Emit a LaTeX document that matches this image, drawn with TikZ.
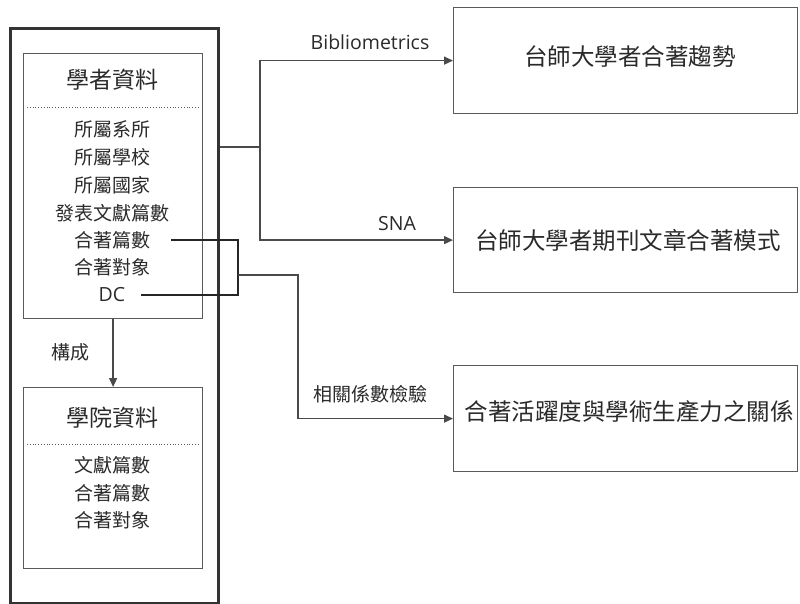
\documentclass[tikz,border=0pt]{standalone}
\usepackage{fontspec}
\setmainfont{Noto Sans CJK TC}
\newfontfamily\latin{Open Sans}
\usetikzlibrary{arrows.meta}
\definecolor{txtC}{HTML}{2A2A2A}
\definecolor{lineC}{HTML}{4A4A4A}
\definecolor{boxC}{HTML}{5A5A5A}
\begin{document}
\begin{tikzpicture}[x=1pt,y=-1pt,line join=miter,
  conn/.style={draw=lineC,line width=1.4pt},
  brk/.style={draw=black!85,line width=1.4pt},
  arr/.style={conn,-{Triangle[length=9pt,width=8pt]}},
  box/.style={draw=boxC,line width=1.2pt,anchor=north west,inner sep=0pt},
  ttl/.style={text=txtC,font=\fontsize{23}{26}\selectfont,inner sep=0pt},
  item/.style={text=txtC,font=\fontsize{19}{22}\selectfont,inner sep=0pt},
  big/.style={text=txtC,font=\fontsize{23.5}{26}\selectfont,inner sep=0pt},
  lab/.style={text=txtC,font=\fontsize{19}{22}\selectfont,inner sep=0pt},
  lat/.style={text=txtC,font=\latin\fontsize{19.5}{22}\selectfont,inner sep=0pt},
  dots/.style={draw=boxC,line width=0.8pt,dotted}]
\useasboundingbox (0,0) rectangle (800,604);
% outer frame
\node[box,draw=black!80,line width=3pt,minimum width=208pt,minimum height=575pt] (o) at (9,27) {};
% scholar data box
\node[box,minimum width=179pt,minimum height=265pt] (s) at (23,53) {};
\node[ttl] (st) at (112,80) {學者資料};
\coordinate (sd1) at (27,107);
\coordinate (sd2) at (198,107);
\draw[dots] (sd1) -- (sd2);
\node[item] (s1) at (112,129) {所屬系所};
\node[item] (s2) at (112,157) {所屬學校};
\node[item] (s3) at (112,185) {所屬國家};
\node[item] (s4) at (112,213) {發表文獻篇數};
\node[item] (s5) at (112,240) {合著篇數};
\node[item] (s6) at (112,267) {合著對象};
\node[lat] (s7) at (112,295) {DC};
% college data box
\node[box,minimum width=179pt,minimum height=181pt] (t) at (23,387) {};
\node[ttl] (tt) at (112,418) {學院資料};
\coordinate (td1) at (27,444);
\coordinate (td2) at (198,444);
\draw[dots] (td1) -- (td2);
\node[item] (t1) at (112,465) {文獻篇數};
\node[item] (t2) at (112,493) {合著篇數};
\node[item] (t3) at (112,520) {合著對象};
\draw[arr] (s.south) -- (t.north);
\node[lab] (lc) at (70,352) {構成};
% right boxes
\node[box,minimum width=344pt,minimum height=106pt] (A) at (453,7) {};
\node[big] (At) at (630,57) {台師大學者合著趨勢};
\node[box,minimum width=344pt,minimum height=105pt] (B) at (453,187) {};
\node[big] (Bt) at (628,240) {台師大學者期刊文章合著模式};
\node[box,minimum width=344pt,minimum height=106pt] (C) at (453,365) {};
\node[big] (Ct) at (629,411) {合著活躍度與學術生產力之關係};
% branch connectors
\coordinate (j) at (260,147);
\draw[conn] (o.north east |- j) -- (j);
\draw[arr] (j) |- (A.west);
\draw[arr] (j) |- (B.west);
\node[lat] (lb) at (370,42) {Bibliometrics};
\node[lat] (ls) at (397,224) {SNA};
% bracket
\coordinate (p1) at ([xshift=21pt]s5.east);
\coordinate (p2) at ([xshift=16pt]s7.east);
\coordinate (bx) at (238,240);
\coordinate (by) at (238,295);
\coordinate (m) at (238,275);
\coordinate (q) at (298,275);
\draw[brk] (p1) -- (bx) -- (by) -- (p2);
\draw[arr] (m) -- (q) |- (C.west);
\node[lab] (lr) at (370,394) {相關係數檢驗};
\end{tikzpicture}
\end{document}
